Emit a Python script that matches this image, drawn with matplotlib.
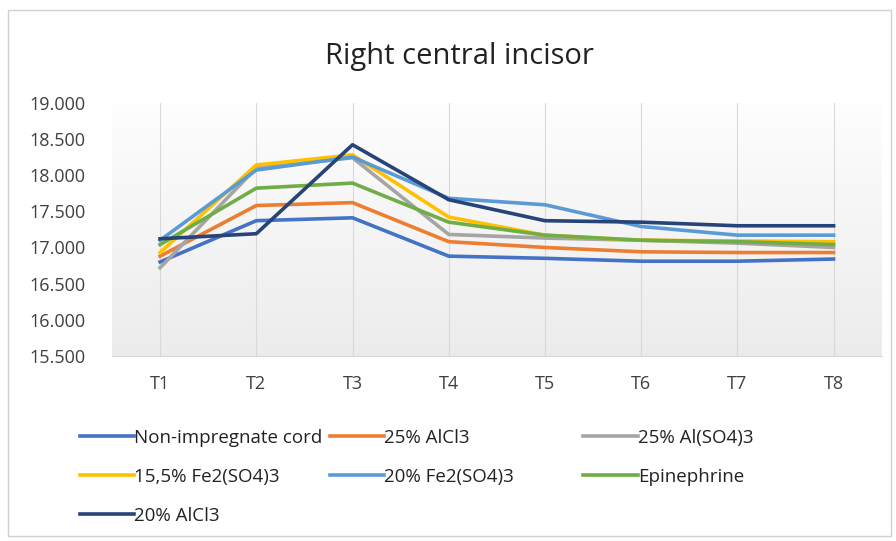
import numpy as np
import matplotlib
matplotlib.use("Agg")
import matplotlib.pyplot as plt
from matplotlib.patches import Rectangle

# Data
times = ["T1", "T2", "T3", "T4", "T5", "T6", "T7", "T8"]
non_impregnate = [16.80, 17.37, 17.41, 16.88, 16.85, 16.81, 16.81, 16.84]
alcl3_25 = [16.88, 17.58, 17.62, 17.08, 17.00, 16.94, 16.93, 16.93]
also4_25 = [16.72, 18.10, 18.24, 17.18, 17.13, 17.10, 17.06, 17.00]
fe2so4_155 = [16.93, 18.14, 18.28, 17.42, 17.17, 17.10, 17.09, 17.08]
fe2so4_20 = [17.10, 18.07, 18.25, 17.68, 17.59, 17.29, 17.17, 17.17]
epinephrine = [17.04, 17.82, 17.89, 17.35, 17.17, 17.10, 17.08, 17.04]
alcl3_20 = [17.12, 17.19, 18.42, 17.66, 17.37, 17.35, 17.30, 17.30]

series = [
    ("Non-impregnate cord", non_impregnate, "#4472C4"),
    ("25% AlCl3", alcl3_25, "#ED7D31"),
    ("25% Al(SO4)3", also4_25, "#A5A5A5"),
    ("15,5% Fe2(SO4)3", fe2so4_155, "#FFC000"),
    ("20% Fe2(SO4)3", fe2so4_20, "#5B9BD5"),
    ("Epinephrine", epinephrine, "#70AD47"),
    ("20% AlCl3", alcl3_20, "#264478"),
]

plt.rcParams["font.family"] = ["Open Sans", "DejaVu Sans"]

fig = plt.figure(figsize=(8.96, 5.41), dpi=100)
fig.patches.append(Rectangle((0.009, 0.01), 0.985, 0.972, transform=fig.transFigure,
                             fill=False, edgecolor="#d0d0d0", lw=1))
ax = fig.add_axes([0.125, 0.342, 0.859, 0.468])

# soft gradient background of the plot area (white at top -> light grey at bottom)
g = np.linspace(0.995, 0.925, 100)
grad = np.dstack([g, g, g]).reshape(100, 1, 3)
ax.imshow(grad, extent=[0, 1, 0, 1], transform=ax.transAxes, aspect="auto", zorder=0)

x = np.arange(len(times))
lines = {}
for name, vals, col in series:
    (ln,) = ax.plot(x, vals, color=col, lw=2.6, label=name, zorder=3)
    lines[name] = ln

ax.set_xlim(-0.5, 7.5)
ax.set_ylim(15.5, 19.0)
yt = np.arange(15.5, 19.01, 0.5)
ax.set_yticks(yt)
ax.set_yticklabels([f"{v:.3f}" for v in yt], fontsize=13, color="#404040")
ax.set_xticks(x)
ax.set_xticklabels(times, fontsize=13, color="#404040")
ax.tick_params(axis="both", length=0)
ax.tick_params(axis="x", pad=14)
ax.tick_params(axis="y", pad=19)
for xi in x:
    ax.axvline(xi, color="#d9d9d9", lw=0.8, zorder=1)
for s in ["top", "right", "left"]:
    ax.spines[s].set_visible(False)
ax.spines["bottom"].set_color("#d9d9d9")

fig.text(0.513, 0.895, "Right central incisor", ha="center", va="center", fontsize=21, color="#222222")

# legend laid out like the Excel one, one legend per column
cols = [
    (["Non-impregnate cord", "15,5% Fe2(SO4)3", "20% AlCl3"], 0.089),
    (["25% AlCl3", "20% Fe2(SO4)3"], 0.368),
    (["25% Al(SO4)3", "Epinephrine"], 0.651),
]
for names, xpos in cols:
    leg = fig.legend([lines[n] for n in names], names, loc="upper left",
                     bbox_to_anchor=(xpos, 0.207), frameon=False, fontsize=13.5,
                     handlelength=2.9, handletextpad=0.0, labelspacing=1.12,
                     borderaxespad=0, borderpad=0)
    for t in leg.get_texts():
        t.set_color("#222222")

fig.savefig("out.png", dpi=100)
